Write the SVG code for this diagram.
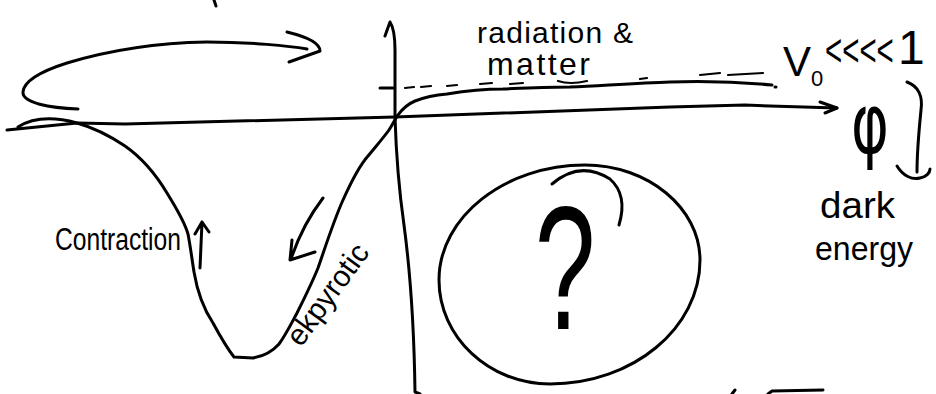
<svg xmlns="http://www.w3.org/2000/svg" width="936" height="394" viewBox="0 0 936 394">
<style>
.s{fill:none;stroke:#000;stroke-width:3;stroke-linecap:round;stroke-linejoin:round}
.d{fill:none;stroke:#000;stroke-width:2.2;stroke-linecap:round}
.t{font-family:"Liberation Sans",Arial,sans-serif;fill:#000}
</style>
<rect width="936" height="394" fill="#fff"/>
<g id="axes">
<path class="s" d="M7,130 L77,123 L125,124 L395,117 L670,107 L745,105 L770,106 L837,108"/>
<path class="s" d="M820,102 L837,108 L825,113"/>
<path class="s" d="M385,36 L390,22 C394,28 395,38 395,50 L395,117 C396,150 399,190 404,225 C410,270 414,320 415,392 L420,394"/>
<path class="s" d="M380,88 L393,88"/>
</g>
<g id="potential">
<path class="s" d="M18,127 Q40,113 77,123 C95,128 110,136 125,146 C145,160 158,178 167,193 C176,208 184,220 188,234 C191,250 192,260 194,272 C197,290 203,308 213,323 C220,336 227,348 234,357 L253,358 C265,356 272,352 279,344 C285,336 290,326 297,313 C305,297 312,283 318,268 C326,245 334,220 343,200 C352,180 360,165 368,156 C377,145 384,137 389,130 C393,124 395,119 398,115 C403,108 408,104 415,101 C425,97 435,95 447,94 C465,91 485,89 503,89 C530,88 550,87 570,87 C610,85 640,83 670,82 C700,81 740,82 772,85"/>
<path class="s" d="M775,87 L776,87"/>
</g>
<g id="dashes">
<path class="d" d="M405,88 L414,87 M421,87 L431,86 M447,86 L457,85 M480,84 L492,83 M510,84 L523,83 M558,81 Q570,85 587,81 M640,79 L647,78 M700,75 L720,73 M728,75 L763,73"/>
</g>
<g id="loop-arrow">
<path class="s" d="M78,109 C50,108 22,103 23,92 C24,80 45,70 67,63 C100,53 150,43 207,42 C250,42 290,46 307,49"/>
<path class="s" d="M287,32 Q320,40 320,51 L289,62"/>
<path class="s" d="M214,0 L216,6"/>
</g>
<g id="contraction">
<text class="t" x="55" y="250" font-size="31" textLength="126" lengthAdjust="spacingAndGlyphs">Contraction</text>
<path class="s" d="M200,268 L202,222 M195,234 L202,222 L209,232"/>
</g>
<g id="ekpyrotic">
<text class="t" font-size="30" transform="translate(301,348) rotate(-54)" textLength="118" lengthAdjust="spacingAndGlyphs">ekpyrotic</text>
<path class="s" d="M323,198 C310,215 298,238 291,259 M292,240 L290,260 L315,252"/>
</g>
<g id="radiation-matter">
<text class="t" x="477" y="43" font-size="30" textLength="156">radiation &amp;</text>
<text class="t" x="487" y="75" font-size="32" textLength="103">matter</text>
</g>
<g id="v0">
<text class="t" x="783" y="76" font-size="42">V<tspan font-size="22" dy="10">0</tspan></text>
<text class="t" font-size="46" transform="translate(825,66) scale(0.64,1)">&lt;&lt;&lt;&lt;</text>
<text class="t" x="898" y="64" font-size="48">1</text>
</g>
<g id="phi">
<text font-family="DejaVu Sans, sans-serif" font-size="72" text-anchor="middle" transform="translate(870,153) scale(0.8,1.15)">φ</text>
<path class="s" d="M907,82 C918,86 923,96 921,110 C919,130 917,150 917,172 M897,166 C903,176 912,180 920,178 C926,177 930,173 930,169"/>
</g>
<g id="dark-energy">
<text class="t" x="820" y="218" font-size="36" textLength="75" lengthAdjust="spacingAndGlyphs">dark</text>
<text class="t" x="815" y="260" font-size="34" textLength="98" lengthAdjust="spacingAndGlyphs">energy</text>
</g>
<g id="question">
<path class="s" d="M585,165 C648,165 700,208 700,260 C700,328 633,384 550,384 C489,384 439,337 439,280 C439,217 505,165 585,165 Z"/>
<path class="s" d="M552,184 Q580,160 610,179 Q628,195 619,225"/>
<text class="t" font-size="176" text-anchor="middle" transform="translate(565,329) scale(0.62,1)">?</text>
</g>
<g id="bottom-marks">
<path class="s" d="M732,394 L735,390 M768,394 L772,391 L823,390"/>
</g>
</svg>
